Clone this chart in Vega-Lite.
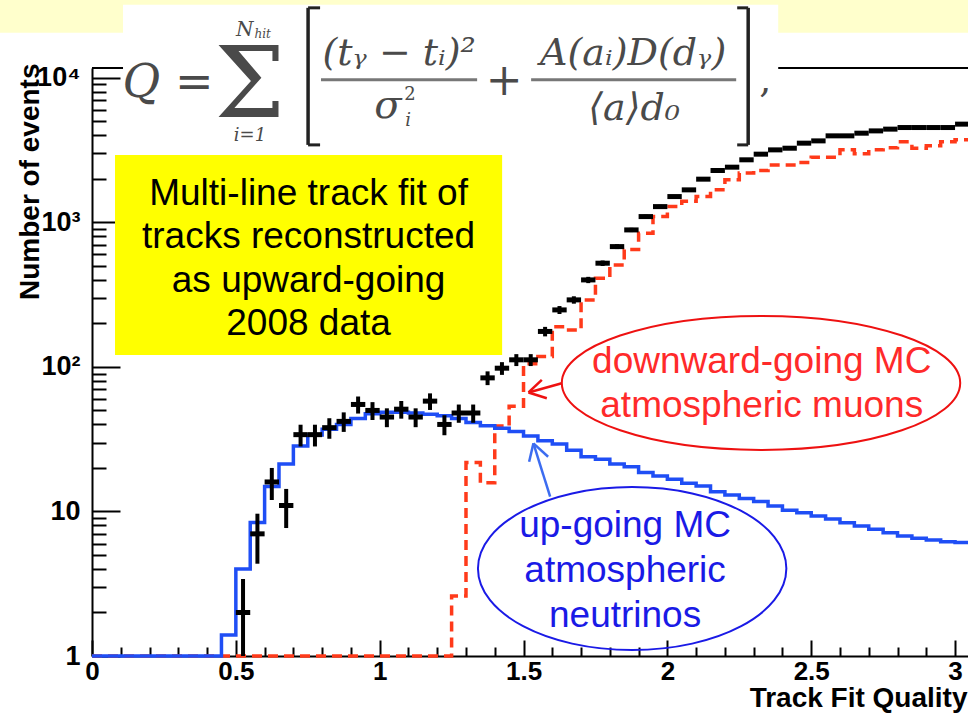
{
  "$schema": "https://vega.github.io/schema/vega-lite/v6.json",
  "autosize": "none",
  "padding": {"left": 92, "top": 68, "right": 0, "bottom": 59},
  "width": 876,
  "height": 588,
  "background": "white",
  "config": {
    "view": {"stroke": null},
    "axis": {"grid": false, "domainColor": "black", "tickColor": "black", "labelColor": "black", "titleColor": "black"}
  },
  "datasets": {
    "hist": [
      {"bin": 0.00, "right": 0.05, "mid": 0.025, "muon": 1, "nu": 1, "data": null, "lo": null, "hi": null},
      {"bin": 0.05, "right": 0.10, "mid": 0.075, "muon": 1, "nu": 1, "data": null, "lo": null, "hi": null},
      {"bin": 0.10, "right": 0.15, "mid": 0.125, "muon": 1, "nu": 1, "data": null, "lo": null, "hi": null},
      {"bin": 0.15, "right": 0.20, "mid": 0.175, "muon": 1, "nu": 1, "data": null, "lo": null, "hi": null},
      {"bin": 0.20, "right": 0.25, "mid": 0.225, "muon": 1, "nu": 1, "data": null, "lo": null, "hi": null},
      {"bin": 0.25, "right": 0.30, "mid": 0.275, "muon": 1, "nu": 1, "data": null, "lo": null, "hi": null},
      {"bin": 0.30, "right": 0.35, "mid": 0.325, "muon": 1, "nu": 1, "data": null, "lo": null, "hi": null},
      {"bin": 0.35, "right": 0.40, "mid": 0.375, "muon": 1, "nu": 1, "data": null, "lo": null, "hi": null},
      {"bin": 0.40, "right": 0.45, "mid": 0.425, "muon": 1, "nu": 1, "data": null, "lo": null, "hi": null},
      {"bin": 0.45, "right": 0.50, "mid": 0.475, "muon": 1, "nu": 1.4, "data": null, "lo": null, "hi": null},
      {"bin": 0.50, "right": 0.55, "mid": 0.525, "muon": 1, "nu": 4.0, "data": 2, "lo": 0.59, "hi": 3.41},
      {"bin": 0.55, "right": 0.60, "mid": 0.575, "muon": 1, "nu": 8.4, "data": 7, "lo": 4.35, "hi": 9.65},
      {"bin": 0.60, "right": 0.65, "mid": 0.625, "muon": 1, "nu": 14.9, "data": 16, "lo": 12, "hi": 20},
      {"bin": 0.65, "right": 0.70, "mid": 0.675, "muon": 1, "nu": 21.3, "data": 11, "lo": 7.68, "hi": 14.32},
      {"bin": 0.70, "right": 0.75, "mid": 0.725, "muon": 1, "nu": 28.4, "data": 34, "lo": 28.17, "hi": 39.83},
      {"bin": 0.75, "right": 0.80, "mid": 0.775, "muon": 1, "nu": 33.8, "data": 34, "lo": 28.17, "hi": 39.83},
      {"bin": 0.80, "right": 0.85, "mid": 0.825, "muon": 1, "nu": 37, "data": 38, "lo": 31.84, "hi": 44.16},
      {"bin": 0.85, "right": 0.90, "mid": 0.875, "muon": 1, "nu": 40, "data": 42, "lo": 35.52, "hi": 48.48},
      {"bin": 0.90, "right": 0.95, "mid": 0.925, "muon": 1, "nu": 44, "data": 55, "lo": 47.58, "hi": 62.42},
      {"bin": 0.95, "right": 1.00, "mid": 0.975, "muon": 1, "nu": 47.5, "data": 50, "lo": 42.93, "hi": 57.07},
      {"bin": 1.00, "right": 1.05, "mid": 1.025, "muon": 1, "nu": 48.5, "data": 45, "lo": 38.29, "hi": 51.71},
      {"bin": 1.05, "right": 1.10, "mid": 1.075, "muon": 1, "nu": 48.5, "data": 51, "lo": 43.86, "hi": 58.14},
      {"bin": 1.10, "right": 1.15, "mid": 1.125, "muon": 1, "nu": 48, "data": 45, "lo": 38.29, "hi": 51.71},
      {"bin": 1.15, "right": 1.20, "mid": 1.175, "muon": 1, "nu": 47, "data": 58, "lo": 50.38, "hi": 65.62},
      {"bin": 1.20, "right": 1.25, "mid": 1.225, "muon": 1, "nu": 46, "data": 40, "lo": 33.68, "hi": 46.32},
      {"bin": 1.25, "right": 1.30, "mid": 1.275, "muon": 2.6, "nu": 44, "data": 48, "lo": 41.07, "hi": 54.93},
      {"bin": 1.30, "right": 1.35, "mid": 1.325, "muon": 21.8, "nu": 41.2, "data": 48, "lo": 41.07, "hi": 54.93},
      {"bin": 1.35, "right": 1.40, "mid": 1.375, "muon": 15.8, "nu": 39.1, "data": 84, "lo": 74.83, "hi": 93.17},
      {"bin": 1.40, "right": 1.45, "mid": 1.425, "muon": 39, "nu": 37.7, "data": 98, "lo": 88.1, "hi": 107.9},
      {"bin": 1.45, "right": 1.50, "mid": 1.475, "muon": 53.5, "nu": 35.7, "data": 112, "lo": 101.4, "hi": 122.6},
      {"bin": 1.50, "right": 1.55, "mid": 1.525, "muon": 105, "nu": 33.3, "data": 112, "lo": 101.4, "hi": 122.6},
      {"bin": 1.55, "right": 1.60, "mid": 1.575, "muon": 118, "nu": 30.9, "data": 176, "lo": 162.7, "hi": 189.3},
      {"bin": 1.60, "right": 1.65, "mid": 1.625, "muon": 190, "nu": 29.3, "data": 248, "lo": 232.3, "hi": 263.7},
      {"bin": 1.65, "right": 1.70, "mid": 1.675, "muon": 180, "nu": 26.5, "data": 291, "lo": 273.9, "hi": 308.1},
      {"bin": 1.70, "right": 1.75, "mid": 1.725, "muon": 291, "nu": 23.9, "data": 400, "lo": 380, "hi": 420},
      {"bin": 1.75, "right": 1.80, "mid": 1.775, "muon": 411, "nu": 23, "data": 522, "lo": 499.2, "hi": 544.8},
      {"bin": 1.80, "right": 1.85, "mid": 1.825, "muon": 508, "nu": 21.3, "data": 680, "lo": 653.9, "hi": 706.1},
      {"bin": 1.85, "right": 1.90, "mid": 1.875, "muon": 650, "nu": 20.4, "data": 887, "lo": 857.2, "hi": 916.8},
      {"bin": 1.90, "right": 1.95, "mid": 1.925, "muon": 842, "nu": 18.6, "data": 1097, "lo": 1063.9, "hi": 1130.1},
      {"bin": 1.95, "right": 2.00, "mid": 1.975, "muon": 1100, "nu": 17.6, "data": 1286, "lo": 1250.1, "hi": 1321.9},
      {"bin": 2.00, "right": 2.05, "mid": 2.025, "muon": 1286, "nu": 16.7, "data": 1509, "lo": 1470.2, "hi": 1547.8},
      {"bin": 2.05, "right": 2.10, "mid": 2.075, "muon": 1400, "nu": 15.7, "data": 1679, "lo": 1638, "hi": 1720},
      {"bin": 2.10, "right": 2.15, "mid": 2.125, "muon": 1509, "nu": 15.0, "data": 1991, "lo": 1946.4, "hi": 2035.6},
      {"bin": 2.15, "right": 2.20, "mid": 2.175, "muon": 1679, "nu": 13.7, "data": 2285, "lo": 2237.2, "hi": 2332.8},
      {"bin": 2.20, "right": 2.25, "mid": 2.225, "muon": 1972, "nu": 13.0, "data": 2410, "lo": 2360.9, "hi": 2459.1},
      {"bin": 2.25, "right": 2.30, "mid": 2.275, "muon": 2200, "nu": 12.3, "data": 2710, "lo": 2658, "hi": 2762},
      {"bin": 2.30, "right": 2.35, "mid": 2.325, "muon": 2290, "nu": 11.7, "data": 2965, "lo": 2910.5, "hi": 3019.5},
      {"bin": 2.35, "right": 2.40, "mid": 2.375, "muon": 2500, "nu": 10.9, "data": 3175, "lo": 3118.7, "hi": 3231.3},
      {"bin": 2.40, "right": 2.45, "mid": 2.425, "muon": 2500, "nu": 10.2, "data": 3260, "lo": 3202.9, "hi": 3317.1},
      {"bin": 2.45, "right": 2.50, "mid": 2.475, "muon": 2594, "nu": 9.8, "data": 3533, "lo": 3473.6, "hi": 3592.4},
      {"bin": 2.50, "right": 2.55, "mid": 2.525, "muon": 2827, "nu": 9.3, "data": 3664, "lo": 3603.5, "hi": 3724.5},
      {"bin": 2.55, "right": 2.60, "mid": 2.575, "muon": 2827, "nu": 8.87, "data": 3970, "lo": 3907, "hi": 4033},
      {"bin": 2.60, "right": 2.65, "mid": 2.625, "muon": 3175, "nu": 8.37, "data": 3970, "lo": 3907, "hi": 4033},
      {"bin": 2.65, "right": 2.70, "mid": 2.675, "muon": 2980, "nu": 7.94, "data": 4142, "lo": 4077.6, "hi": 4206.4},
      {"bin": 2.70, "right": 2.75, "mid": 2.725, "muon": 3175, "nu": 7.53, "data": 4296, "lo": 4230.5, "hi": 4361.5},
      {"bin": 2.75, "right": 2.80, "mid": 2.775, "muon": 3279, "nu": 7.13, "data": 4418, "lo": 4351.5, "hi": 4484.5},
      {"bin": 2.80, "right": 2.85, "mid": 2.825, "muon": 3607, "nu": 6.77, "data": 4532, "lo": 4464.7, "hi": 4599.3},
      {"bin": 2.85, "right": 2.90, "mid": 2.875, "muon": 3260, "nu": 6.53, "data": 4532, "lo": 4464.7, "hi": 4599.3},
      {"bin": 2.90, "right": 2.95, "mid": 2.925, "muon": 3384, "nu": 6.35, "data": 4532, "lo": 4464.7, "hi": 4599.3},
      {"bin": 2.95, "right": 3.00, "mid": 2.975, "muon": 3607, "nu": 6.18, "data": 4532, "lo": 4464.7, "hi": 4599.3},
      {"bin": 3.00, "right": 3.05, "mid": 3.025, "muon": 3724, "nu": 6.1, "data": 4783, "lo": 4713.8, "hi": 4852.2},
      {"bin": 3.05, "right": 3.10, "mid": 3.075, "muon": 3724, "nu": 6.0, "data": 4783, "lo": 4713.8, "hi": 4852.2}
    ]
  },
  "resolve": {"axis": {"x": "independent", "y": "independent"}},
  "layer": [
    {
      "data": {"values": [{}]},
      "mark": {"type": "rect", "color": "#ffffcc", "clip": false},
      "encoding": {
        "x": {"datum": -0.35, "type": "quantitative", "axis": null},
        "x2": {"datum": 3.1},
        "y": {"datum": 36000, "type": "quantitative", "axis": null},
        "y2": {"datum": 20480}
      }
    },
    {
      "data": {"values": [{}]},
      "mark": {"type": "rule", "color": "black", "strokeWidth": 2, "clip": false},
      "encoding": {
        "x": {"datum": 0, "type": "quantitative", "axis": null},
        "x2": {"datum": 3.045},
        "y": {"datum": 11700, "type": "quantitative", "axis": null}
      }
    },
    {
      "data": {"values": [{}]},
      "mark": {"type": "rect", "color": "white", "clip": false},
      "encoding": {
        "x": {"datum": 0.1078, "type": "quantitative", "axis": null},
        "x2": {"datum": 2.3853},
        "y": {"datum": 32000, "type": "quantitative", "axis": null},
        "y2": {"datum": 11010}
      }
    },
    {
      "data": {"values": [{}]},
      "mark": {"type": "text", "text": "Q =", "font": "DejaVu Serif", "fontStyle": "italic", "fontSize": 46, "color": "#4a4a4a", "align": "center", "baseline": "alphabetic", "clip": false},
      "encoding": {"x": {"datum": 0.2643, "type": "quantitative", "axis": null}, "y": {"datum": 7388, "type": "quantitative", "axis": null}}
    },
    {
      "data": {"values": [{}]},
      "mark": {"type": "text", "text": "Σ", "font": "DejaVu Serif", "fontSize": 100, "color": "#4a4a4a", "align": "center", "baseline": "alphabetic", "clip": false},
      "encoding": {"x": {"datum": 0.549, "type": "quantitative", "axis": null}, "y": {"datum": 5370, "type": "quantitative", "axis": null}}
    },
    {
      "data": {"values": [{}]},
      "mark": {"type": "text", "text": "N", "font": "DejaVu Serif", "fontStyle": "italic", "fontSize": 20, "color": "#4a4a4a", "align": "right", "baseline": "alphabetic", "clip": false},
      "encoding": {"x": {"datum": 0.5613, "type": "quantitative", "axis": null}, "y": {"datum": 19530, "type": "quantitative", "axis": null}}
    },
    {
      "data": {"values": [{}]},
      "mark": {"type": "text", "text": "hit", "font": "DejaVu Serif", "fontStyle": "italic", "fontSize": 12, "color": "#4a4a4a", "align": "left", "baseline": "alphabetic", "clip": false},
      "encoding": {"x": {"datum": 0.5648, "type": "quantitative", "axis": null}, "y": {"datum": 18920, "type": "quantitative", "axis": null}}
    },
    {
      "data": {"values": [{}]},
      "mark": {"type": "text", "text": "i=1", "font": "DejaVu Serif", "fontStyle": "italic", "fontSize": 18, "color": "#4a4a4a", "align": "center", "baseline": "alphabetic", "clip": false},
      "encoding": {"x": {"datum": 0.549, "type": "quantitative", "axis": null}, "y": {"datum": 3664, "type": "quantitative", "axis": null}}
    },
    {
      "data": {"values": [{}]},
      "mark": {"type": "text", "text": "(tᵧ − tᵢ)²", "font": "DejaVu Serif", "fontStyle": "italic", "fontSize": 38, "color": "#4a4a4a", "align": "center", "baseline": "alphabetic", "clip": false},
      "encoding": {"x": {"datum": 1.0675, "type": "quantitative", "axis": null}, "y": {"datum": 12303, "type": "quantitative", "axis": null}}
    },
    {
      "data": {"values": [{}]},
      "mark": {"type": "text", "text": "σ", "font": "DejaVu Serif", "fontStyle": "italic", "fontSize": 40, "color": "#4a4a4a", "align": "center", "baseline": "alphabetic", "clip": false},
      "encoding": {"x": {"datum": 1.029, "type": "quantitative", "axis": null}, "y": {"datum": 5286, "type": "quantitative", "axis": null}}
    },
    {
      "data": {"values": [{}]},
      "mark": {"type": "text", "text": "2", "font": "DejaVu Serif", "fontSize": 18, "color": "#4a4a4a", "align": "center", "baseline": "alphabetic", "clip": false},
      "encoding": {"x": {"datum": 1.1057, "type": "quantitative", "axis": null}, "y": {"datum": 7045, "type": "quantitative", "axis": null}}
    },
    {
      "data": {"values": [{}]},
      "mark": {"type": "text", "text": "i", "font": "DejaVu Serif", "fontStyle": "italic", "fontSize": 18, "color": "#4a4a4a", "align": "center", "baseline": "alphabetic", "clip": false},
      "encoding": {"x": {"datum": 1.0987, "type": "quantitative", "axis": null}, "y": {"datum": 4656, "type": "quantitative", "axis": null}}
    },
    {
      "data": {"values": [{}]},
      "mark": {"type": "text", "text": "+", "font": "DejaVu Serif", "fontSize": 44, "color": "#4a4a4a", "align": "center", "baseline": "alphabetic", "clip": false},
      "encoding": {"x": {"datum": 1.4326, "type": "quantitative", "axis": null}, "y": {"datum": 7625, "type": "quantitative", "axis": null}}
    },
    {
      "data": {"values": [{}]},
      "mark": {"type": "text", "text": "A(aᵢ)D(dᵧ)", "font": "DejaVu Serif", "fontStyle": "italic", "fontSize": 38, "color": "#4a4a4a", "align": "center", "baseline": "alphabetic", "clip": false},
      "encoding": {"x": {"datum": 1.881, "type": "quantitative", "axis": null}, "y": {"datum": 12303, "type": "quantitative", "axis": null}}
    },
    {
      "data": {"values": [{}]},
      "mark": {"type": "text", "text": "⟨a⟩d₀", "font": "DejaVu Serif", "fontStyle": "italic", "fontSize": 38, "color": "#4a4a4a", "align": "center", "baseline": "alphabetic", "clip": false},
      "encoding": {"x": {"datum": 1.8846, "type": "quantitative", "axis": null}, "y": {"datum": 5120, "type": "quantitative", "axis": null}}
    },
    {
      "data": {"values": [{}]},
      "mark": {"type": "text", "text": ",", "font": "DejaVu Serif", "fontSize": 38, "color": "#4a4a4a", "align": "center", "baseline": "alphabetic", "clip": false},
      "encoding": {"x": {"datum": 2.34, "type": "quantitative", "axis": null}, "y": {"datum": 8000, "type": "quantitative", "axis": null}}
    },
    {
      "data": {"values": [{}]},
      "mark": {"type": "rule", "color": "#777777", "strokeWidth": 3, "clip": false},
      "encoding": {"x": {"datum": 0.796, "type": "quantitative", "axis": null}, "x2": {"datum": 1.3387}, "y": {"datum": 9685, "type": "quantitative", "axis": null}}
    },
    {
      "data": {"values": [{}]},
      "mark": {"type": "rule", "color": "#777777", "strokeWidth": 3, "clip": false},
      "encoding": {"x": {"datum": 1.5264, "type": "quantitative", "axis": null}, "x2": {"datum": 2.2392}, "y": {"datum": 9685, "type": "quantitative", "axis": null}}
    },
    {
      "data": {"values": [{}]},
      "mark": {"type": "rule", "color": "#222222", "strokeWidth": 3.5, "clip": false},
      "encoding": {"x": {"datum": 0.7511, "type": "quantitative", "axis": null}, "y": {"datum": 30510, "type": "quantitative", "axis": null}, "y2": {"datum": 3437}}
    },
    {
      "data": {"values": [{}]},
      "mark": {"type": "rule", "color": "#222222", "strokeWidth": 3, "clip": false},
      "encoding": {"x": {"datum": 0.7511, "type": "quantitative", "axis": null}, "x2": {"datum": 0.7928}, "y": {"datum": 30510, "type": "quantitative", "axis": null}}
    },
    {
      "data": {"values": [{}]},
      "mark": {"type": "rule", "color": "#222222", "strokeWidth": 3, "clip": false},
      "encoding": {"x": {"datum": 0.7511, "type": "quantitative", "axis": null}, "x2": {"datum": 0.7928}, "y": {"datum": 3437, "type": "quantitative", "axis": null}}
    },
    {
      "data": {"values": [{}]},
      "mark": {"type": "rule", "color": "#222222", "strokeWidth": 3.5, "clip": false},
      "encoding": {"x": {"datum": 2.2809, "type": "quantitative", "axis": null}, "y": {"datum": 30510, "type": "quantitative", "axis": null}, "y2": {"datum": 3437}}
    },
    {
      "data": {"values": [{}]},
      "mark": {"type": "rule", "color": "#222222", "strokeWidth": 3, "clip": false},
      "encoding": {"x": {"datum": 2.2427, "type": "quantitative", "axis": null}, "x2": {"datum": 2.2809}, "y": {"datum": 30510, "type": "quantitative", "axis": null}}
    },
    {
      "data": {"values": [{}]},
      "mark": {"type": "rule", "color": "#222222", "strokeWidth": 3, "clip": false},
      "encoding": {"x": {"datum": 2.2427, "type": "quantitative", "axis": null}, "x2": {"datum": 2.2809}, "y": {"datum": 3437, "type": "quantitative", "axis": null}}
    },
    {
      "data": {"values": [{}]},
      "mark": {"type": "text", "text": "y", "font": "Liberation Sans", "fontStyle": "italic", "fontSize": 30, "color": "#2a2aff", "align": "center", "baseline": "alphabetic", "clip": false},
      "encoding": {"x": {"datum": 2.6916, "type": "quantitative", "axis": null}, "y": {"datum": 38130, "type": "quantitative", "axis": null}}
    },
    {
      "data": {"values": [{}]},
      "mark": {"type": "rect", "color": "#ffff00", "clip": false},
      "encoding": {
        "x": {"datum": 0.08, "type": "quantitative", "axis": null},
        "x2": {"datum": 1.4256},
        "y": {"datum": 2931, "type": "quantitative", "axis": null},
        "y2": {"datum": 121.1}
      }
    },
    {
      "data": {"values": [{}]},
      "mark": {"type": "text", "text": ["Multi-line track fit of", "tracks reconstructed", "as upward-going", "2008 data"], "font": "Liberation Sans", "fontSize": 37, "lineHeight": 43.5, "color": "black", "align": "center", "baseline": "alphabetic", "clip": false},
      "encoding": {"x": {"datum": 0.7528, "type": "quantitative", "axis": null}, "y": {"datum": 1321, "type": "quantitative", "axis": null}}
    },
    {
      "data": {"name": "hist"},
      "mark": {"type": "line", "interpolate": "step-after", "color": "#ff3a1a", "strokeWidth": 3.5, "strokeDash": [10, 6], "clip": false},
      "encoding": {
        "x": {
          "field": "bin", "type": "quantitative",
          "scale": {"domain": [0, 3.045], "nice": false, "zero": false},
          "axis": {
            "orient": "bottom", "values": [0, 0.5, 1, 1.5, 2, 2.5, 3], "format": "~g",
            "tickSize": -16, "tickWidth": 2, "domainWidth": 2,
            "labelFont": "Liberation Sans", "labelFontWeight": "bold", "labelFontSize": 26,
            "labelPadding": 18, "labelFlush": false, "labelOverlap": false,
            "title": "Track Fit Quality", "titleFont": "Liberation Sans", "titleFontWeight": "bold", "titleFontSize": 28,
            "titleX": 875, "titleY": 50, "titleAlign": "right", "titleBaseline": "alphabetic", "titleAngle": 0
          }
        },
        "y": {
          "field": "muon", "type": "quantitative",
          "scale": {"type": "log", "domain": [1, 11700], "nice": false},
          "axis": {
            "orient": "left", "values": [1, 10, 100, 1000, 10000],
            "labelExpr": "datum.value == 1 ? '1' : datum.value == 10 ? '10' : datum.value == 100 ? '10²' : datum.value == 1000 ? '10³' : '10⁴'",
            "tickSize": -28, "tickWidth": 2, "domainWidth": 2,
            "labelFont": "Liberation Sans", "labelFontWeight": "bold", "labelFontSize": 27,
            "labelPadding": 40, "labelFlush": false, "labelOverlap": false,
            "title": "Number of events", "titleFont": "Liberation Sans", "titleFontWeight": "bold", "titleFontSize": 28,
            "titleX": -62, "titleY": -5, "titleAngle": -90, "titleAlign": "right", "titleBaseline": "middle"
          }
        }
      }
    },
    {
      "data": {"name": "hist"},
      "mark": {"type": "line", "interpolate": "step-after", "color": "#1f4ef5", "strokeWidth": 3.5, "clip": false},
      "encoding": {
        "x": {
          "field": "bin", "type": "quantitative",
          "axis": {
            "orient": "bottom",
            "values": [0.1, 0.2, 0.3, 0.4, 0.6, 0.7, 0.8, 0.9, 1.1, 1.2, 1.3, 1.4, 1.6, 1.7, 1.8, 1.9, 2.1, 2.2, 2.3, 2.4, 2.6, 2.7, 2.8, 2.9],
            "tickSize": -9, "tickWidth": 2, "domain": false, "labels": false, "title": null
          }
        },
        "y": {
          "field": "nu", "type": "quantitative",
          "axis": {
            "orient": "left",
            "values": [2, 3, 4, 5, 6, 7, 8, 9, 20, 30, 40, 50, 60, 70, 80, 90, 200, 300, 400, 500, 600, 700, 800, 900, 2000, 3000, 4000, 5000, 6000, 7000, 8000, 9000],
            "tickSize": -14, "tickWidth": 2, "domain": false, "labels": false, "title": null
          }
        }
      }
    },
    {
      "data": {"name": "hist"},
      "mark": {"type": "rule", "color": "black", "strokeWidth": 5, "strokeCap": "butt", "clip": false},
      "encoding": {
        "x": {"field": "bin", "type": "quantitative", "axis": null},
        "x2": {"field": "right"},
        "y": {"field": "data", "type": "quantitative", "axis": null}
      }
    },
    {
      "data": {"name": "hist"},
      "mark": {"type": "rule", "color": "black", "strokeWidth": 4, "strokeCap": "butt", "clip": true},
      "encoding": {
        "x": {"field": "mid", "type": "quantitative", "axis": null},
        "y": {"field": "lo", "type": "quantitative", "axis": null},
        "y2": {"field": "hi"}
      }
    },
    {
      "data": {"values": [{}]},
      "mark": {"type": "point", "filled": false, "opacity": 1, "color": "#ee1111", "strokeWidth": 2, "size": 158723, "clip": false,
        "shape": "M 1 0 C 1 0.1857 0.5523 0.3363 0 0.3363 C -0.5523 0.3363 -1 0.1857 -1 0 C -1 -0.1857 -0.5523 -0.3363 0 -0.3363 C 0.5523 -0.3363 1 -0.1857 1 0 Z"},
      "encoding": {"x": {"datum": 2.3255, "type": "quantitative", "axis": null}, "y": {"datum": 77.5, "type": "quantitative", "axis": null}}
    },
    {
      "data": {"values": [{}]},
      "mark": {"type": "point", "filled": false, "opacity": 1, "color": "#1a1ae6", "strokeWidth": 2, "size": 95110, "clip": false,
        "shape": "M 1 0 C 1 0.2919 0.5523 0.5285 0 0.5285 C -0.5523 0.5285 -1 0.2919 -1 0 C -1 -0.2919 -0.5523 -0.5285 0 -0.5285 C 0.5523 -0.5285 1 -0.2919 1 0 Z"},
      "encoding": {"x": {"datum": 1.8776, "type": "quantitative", "axis": null}, "y": {"datum": 4.03, "type": "quantitative", "axis": null}}
    },
    {
      "data": {"values": [{}]},
      "mark": {"type": "rule", "color": "#ee1111", "strokeWidth": 2.5},
      "encoding": {"x": {"datum": 1.633, "type": "quantitative", "axis": null}, "x2": {"datum": 1.5174}, "y": {"datum": 77.1, "type": "quantitative", "axis": null}, "y2": {"datum": 66.6}}
    },
    {
      "data": {"values": [{}]},
      "mark": {"type": "rule", "color": "#ee1111", "strokeWidth": 2.5},
      "encoding": {"x": {"datum": 1.5174, "type": "quantitative", "axis": null}, "x2": {"datum": 1.5636}, "y": {"datum": 66.6, "type": "quantitative", "axis": null}, "y2": {"datum": 81.3}}
    },
    {
      "data": {"values": [{}]},
      "mark": {"type": "rule", "color": "#ee1111", "strokeWidth": 2.5},
      "encoding": {"x": {"datum": 1.5174, "type": "quantitative", "axis": null}, "x2": {"datum": 1.581}, "y": {"datum": 66.6, "type": "quantitative", "axis": null}, "y2": {"datum": 60.7}}
    },
    {
      "data": {"values": [{}]},
      "mark": {"type": "rule", "color": "#3c6cf0", "strokeWidth": 2.5},
      "encoding": {"x": {"datum": 1.5925, "type": "quantitative", "axis": null}, "x2": {"datum": 1.5344}, "y": {"datum": 12.66, "type": "quantitative", "axis": null}, "y2": {"datum": 29.6}}
    },
    {
      "data": {"values": [{}]},
      "mark": {"type": "rule", "color": "#3c6cf0", "strokeWidth": 2.5},
      "encoding": {"x": {"datum": 1.5344, "type": "quantitative", "axis": null}, "x2": {"datum": 1.5195}, "y": {"datum": 29.6, "type": "quantitative", "axis": null}, "y2": {"datum": 22.1}}
    },
    {
      "data": {"values": [{}]},
      "mark": {"type": "rule", "color": "#3c6cf0", "strokeWidth": 2.5},
      "encoding": {"x": {"datum": 1.5344, "type": "quantitative", "axis": null}, "x2": {"datum": 1.5855}, "y": {"datum": 29.6, "type": "quantitative", "axis": null}, "y2": {"datum": 23.9}}
    },
    {
      "data": {"values": [{}]},
      "mark": {"type": "text", "text": ["downward-going MC", "atmospheric muons"], "font": "Liberation Sans", "fontSize": 37, "lineHeight": 44, "color": "#ff2a2a", "align": "center", "baseline": "alphabetic", "clip": false},
      "encoding": {"x": {"datum": 2.328, "type": "quantitative", "axis": null}, "y": {"datum": 90.9, "type": "quantitative", "axis": null}}
    },
    {
      "data": {"values": [{}]},
      "mark": {"type": "text", "text": ["up-going MC", "atmospheric", "neutrinos"], "font": "Liberation Sans", "fontSize": 37, "lineHeight": 45, "color": "#1a1ae6", "align": "center", "baseline": "alphabetic", "clip": false},
      "encoding": {"x": {"datum": 1.853, "type": "quantitative", "axis": null}, "y": {"datum": 6.69, "type": "quantitative", "axis": null}}
    }
  ]
}
